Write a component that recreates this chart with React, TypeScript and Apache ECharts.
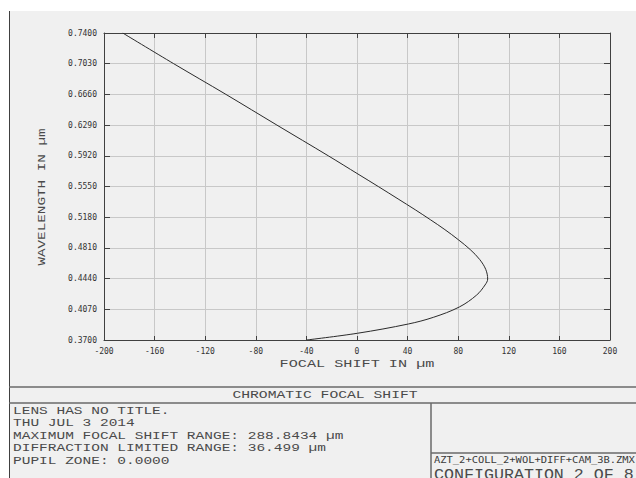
import React, { useEffect, useRef } from "react";
import * as echarts from "echarts";

const wavelength = [0.37, 0.3781, 0.3893, 0.3973, 0.4098, 0.4242, 0.4363, 0.4435, 0.455, 0.467, 0.479, 0.491, 0.503, 0.515, 0.527, 0.54, 0.555, 0.57, 0.592, 0.629, 0.666, 0.703, 0.74];
const focalShift = [-39.8, 0.3, 40.6, 60.3, 80.9, 94.6, 101.2, 103.3, 101.8, 97.0, 89.5, 80.0, 69.5, 58.0, 46.0, 32.5, 16.8, 0.8, -22.7, -63.3, -103.6, -144.9, -185.2];

const xMin = -200;
const xMax = 200;
const xStep = 40;
const yMin = 0.37;
const yMax = 0.74;
const yStep = 0.037;

const title = "CHROMATIC FOCAL SHIFT";
const xTitle = "FOCAL SHIFT IN µm";
const yTitle = "WAVELENGTH IN µm";
const infoLines = [
  "LENS HAS NO TITLE.",
  "THU JUL 3 2014",
  "MAXIMUM FOCAL SHIFT RANGE: 288.8434 µm",
  "DIFFRACTION LIMITED RANGE: 36.499 µm",
  "PUPIL ZONE: 0.0000",
];
const fileName = "AZT_2+COLL_2+WOL+DIFF+CAM_3B.ZMX";
const configText = "CONFIGURATION 2 OF 8";

const MONO = '"Liberation Mono"';
const TICKFONT = '"DejaVu Sans Mono"';

function stretchedText(text: string, x: number, y: number, fs: number, sx: number, align: string, extra: any = {}) {
  return {
    type: "text",
    x,
    y,
    scaleX: sx,
    z: 10,
    style: {
      text,
      font: `${fs}px ${MONO}`,
      fill: "#4a4a4a",
      textAlign: align,
      textVerticalAlign: "middle",
    },
    ...extra,
  };
}

export default function App() {
  const ref = useRef<HTMLDivElement>(null);
  useEffect(() => {
    if (!ref.current) return;
    const chart = echarts.init(ref.current, null, { renderer: "svg" });
    const data = focalShift.map((f, i) => [f, wavelength[i]]);
    const lineCol = "#6a6a6a";
    const graphic: any[] = [
      { type: "rect", z: -100, shape: { x: 9, y: 11, width: 627, height: 467 }, style: { fill: "#f0f0f0" } },
      { type: "line", z: 5, shape: { x1: 9.5, y1: 11, x2: 9.5, y2: 478 }, style: { stroke: "#404040", lineWidth: 1 } },
      { type: "line", z: 5, shape: { x1: 9, y1: 387, x2: 636, y2: 387 }, style: { stroke: lineCol, lineWidth: 1.5 } },
      { type: "line", z: 5, shape: { x1: 9, y1: 403, x2: 636, y2: 403 }, style: { stroke: lineCol, lineWidth: 1.5 } },
      { type: "line", z: 5, shape: { x1: 431, y1: 403, x2: 431, y2: 478 }, style: { stroke: lineCol, lineWidth: 1.5 } },
      { type: "line", z: 5, shape: { x1: 431, y1: 453, x2: 636, y2: 453 }, style: { stroke: lineCol, lineWidth: 1.5 } },
      stretchedText(xTitle, 357, 364, 11, 1.38, "center"),
      stretchedText(yTitle, 42, 197, 11, 1.3, "center", { rotation: Math.PI / 2 }),
      stretchedText(title, 325, 395, 11.5, 1.28, "center"),
      ...infoLines.map((t, i) => stretchedText(t, 13, 411 + i * 12.4, 11.5, 1.26, "left")),
      stretchedText(fileName, 434, 460, 9, 1.16, "left", { style: { text: fileName, font: `9px ${TICKFONT}`, fill: "#3a3a3a", textAlign: "left", textVerticalAlign: "middle" } }),
      stretchedText(configText, 434, 475, 14, 1.19, "left"),
    ];
    const axisLineStyle = { color: "#404040", width: 1 };
    chart.setOption({
      animation: false,
      backgroundColor: "#ffffff",
      grid: { left: 104, top: 33, right: 26, bottom: 138 },
      xAxis: [
        {
          type: "value",
          min: xMin,
          max: xMax,
          interval: xStep,
          position: "bottom",
          axisLine: { show: true, onZero: false, lineStyle: axisLineStyle },
          axisTick: { show: true, inside: true, length: 4, lineStyle: axisLineStyle },
          axisLabel: { margin: 7, fontFamily: TICKFONT, fontSize: 8, color: "#333", formatter: (v: number) => String(Math.round(v)) },
          splitLine: { show: true, lineStyle: { color: "#c8c8c8", width: 1 } },
        },
        {
          type: "value",
          min: xMin,
          max: xMax,
          interval: xStep,
          position: "top",
          axisLine: { show: true, onZero: false, lineStyle: axisLineStyle },
          axisTick: { show: true, inside: true, length: 5, lineStyle: axisLineStyle },
          axisLabel: { show: false },
          splitLine: { show: false },
        },
      ],
      yAxis: [
        {
          type: "value",
          min: yMin,
          max: yMax,
          interval: yStep,
          position: "left",
          axisLine: { show: true, onZero: false, lineStyle: axisLineStyle },
          axisTick: { show: true, inside: true, length: 6, lineStyle: axisLineStyle },
          axisLabel: { margin: 7, fontFamily: TICKFONT, fontSize: 8, color: "#333", formatter: (v: number) => v.toFixed(4) },
          splitLine: { show: true, lineStyle: { color: "#c8c8c8", width: 1 } },
        },
        {
          type: "value",
          min: yMin,
          max: yMax,
          interval: yStep,
          position: "right",
          axisLine: { show: true, onZero: false, lineStyle: axisLineStyle },
          axisTick: { show: true, inside: true, length: 6, lineStyle: axisLineStyle },
          axisLabel: { show: false },
          splitLine: { show: false },
        },
      ],
      series: [
        {
          type: "line",
          data,
          showSymbol: false,
          smooth: 0.35,
          lineStyle: { color: "#2a2a2a", width: 1 },
          z: 3,
        },
      ],
      graphic,
    });
    return () => chart.dispose();
  }, []);
  return <div ref={ref} style={{ position: "fixed", left: 0, top: 0, width: 636, height: 478 }} />;
}
